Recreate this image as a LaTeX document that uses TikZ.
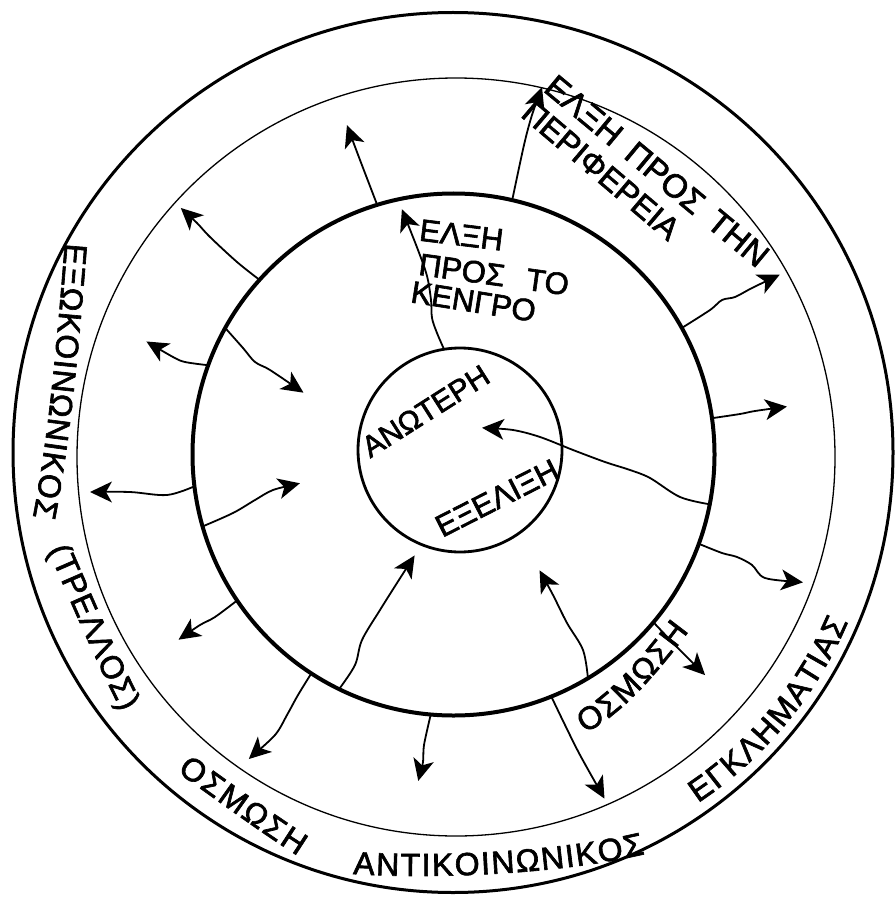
\documentclass[tikz,border=0pt]{standalone}
\usepackage{fontspec}
\newfontfamily\lettering[FakeBold=2]{Liberation Sans}
\usetikzlibrary{decorations.text}
\newcommand\ringfont{\lettering\fontsize{32}{32}\selectfont}
\tikzset{
  ring/.style={circle, draw=black, inner sep=0pt, outer sep=0pt},
  arr/.style={line width=1.8pt, line cap=round, line join=round},
  ahead/.pic={\fill[black] (3pt,0pt) -- (-19pt,10.5pt) -- (-13pt,0pt) -- (-19pt,-10.5pt) -- cycle;},
  ringtext/.style={decorate, decoration={text along path,
              text align={fit to path}, text={|\ringfont|#1}}},
  lbl/.style={inner sep=0pt, anchor=center}
}
\begin{document}
\begin{tikzpicture}[x=1pt,y=-1pt]
\useasboundingbox (0,0) rectangle (894,901);
\fill[white] (0,0) rectangle (894,901);

% circles
\node[ring, line width=3pt,   minimum size=880pt] (outer) at (453,452.5) {};
\node[ring, line width=1.3pt, minimum size=758pt] (thin)  at (456,457) {};
\node[ring, line width=4pt,   minimum size=522pt] (mid)   at (453.5,454.5) {};
\node[ring, line width=2.8pt, minimum size=204pt] (inner) at (460,450) {};

% arrow tips
\coordinate (ta) at (183,210);
\coordinate (tb) at (348,128);
\coordinate (tc) at (149,343);
\coordinate (td) at (301,391);
\coordinate (te) at (93,492);
\coordinate (tf) at (297,484);
\coordinate (tg) at (181,638);
\coordinate (th) at (251,757);
\coordinate (ti) at (413,558);
\coordinate (tj) at (419,778);
\coordinate (tk) at (603,796);
\coordinate (tl) at (541,573);
\coordinate (tm) at (703,673);
\coordinate (tn) at (800,582);
\coordinate (to) at (784,407);
\coordinate (tp) at (777,276);
\coordinate (tq) at (541,90);
\coordinate (tr) at (403,212);
\coordinate (ts) at (485,428);

% arrow lines
\draw[arr] plot[smooth, tension=0.55] coordinates {(mid.138.8) (237,262) (210,237) (197,223) (ta)};
\draw[arr] plot[smooth, tension=0.55] coordinates {(mid.107.8) (360,160) (tb)};
\draw[arr] plot[smooth, tension=0.55] coordinates {(mid.160.3) (185,362) (173,357) (tc)};
\draw[arr] plot[smooth, tension=0.55] coordinates {(mid.151.2) (243,348) (255,362) (270,370) (td)};
\draw[arr] plot[smooth, tension=0.55] coordinates {(mid.187.1) (167,495) (130,492) (te)};
\draw[arr] plot[smooth, tension=0.55] coordinates {(mid.196) (233,513) (255,500) (273,490) (tf)};
\draw[arr] plot[smooth, tension=0.55] coordinates {(mid.214.6) (215,617) (200,625) (tg)};
\draw[arr] plot[smooth, tension=0.55] coordinates {(mid.237.2) (298,695) (287,715) (275,735) (th)};
\draw[arr] plot[smooth, tension=0.55] coordinates {(mid.244.1) (355,665) (362,640) (380,610) (397,583) (ti)};
\draw[arr] plot[smooth, tension=0.55] coordinates {(mid.265) (424,745) (423,762) (tj)};
\draw[arr] plot[smooth, tension=0.55] coordinates {(mid.292) (565,725) (580,755) (tk)};
\draw[arr] plot[smooth, tension=0.55] coordinates {(mid.301.9) (583,650) (567,623) (553,595) (tl)};
\draw[arr] plot[smooth, tension=0.55] coordinates {(mid.320) (675,645) (tm)};
\draw[arr] plot[smooth, tension=0.55] coordinates {(mid.340.8) (722,553) (737,557) (752,565) (765,578) (tn)};
\draw[arr] plot[smooth, tension=0.55] coordinates {(mid.8.4) (740,414) (755,411) (to)};
\draw[arr] plot[smooth, tension=0.55] coordinates {(mid.29.8) (710,310) (722,300) (735,297) (752,288) (tp)};
\draw[arr] plot[smooth, tension=0.55] coordinates {(mid.77.5) (524,145) (532,115) (tq)};
\draw[arr] plot[smooth, tension=0.55] coordinates {(inner.99.4) (437,333) (432,318) (431,300) (427,276) (418,250) (tr)};
\draw[arr] plot[smooth, tension=0.55] coordinates {(mid.349.3) (680,497) (650,478) (630,470) (605,462) (573,450) (540,437) (513,430) (ts)};

% arrow heads
\pic[rotate=137.1] at (ta) {ahead};
\pic[rotate=110.6] at (tb) {ahead};
\pic[rotate=149.7] at (tc) {ahead};
\pic[rotate=-34.1] at (td) {ahead};
\pic[rotate=180]   at (te) {ahead};
\pic[rotate=14]    at (tf) {ahead};
\pic[rotate=214.4] at (tg) {ahead};
\pic[rotate=222.5] at (th) {ahead};
\pic[rotate=57.4]  at (ti) {ahead};
\pic[rotate=256]   at (tj) {ahead};
\pic[rotate=-60.7] at (tk) {ahead};
\pic[rotate=118.6] at (tl) {ahead};
\pic[rotate=-45]   at (tm) {ahead};
\pic[rotate=-6.5]  at (tn) {ahead};
\pic[rotate=7.9]   at (to) {ahead};
\pic[rotate=25.6]  at (tp) {ahead};
\pic[rotate=70.2]  at (tq) {ahead};
\pic[rotate=111.5] at (tr) {ahead};
\pic[rotate=175.9] at (ts) {ahead};

% ring texts along paths
\path[ringtext={ΕΞΩΚΟΙΝΩΝΙΚΟΣ}] (65,243) .. controls (58,330) and (50,430) .. (33,517);
\path[ringtext={(ΤΡΕΛΛΟΣ)}] (48,550) .. controls (70,600) and (95,660) .. (122,712);
\path[ringtext={ΟΣΜΩΣΗ}] (177,772) .. controls (217,800) and (257,830) .. (298,856);
\path[ringtext={ΑΝΤΙΚΟΙΝΩΝΙΚΟΣ}] (353,874) .. controls (450,880) and (570,872) .. (645,854);
\path[ringtext={ΕΓΚΛΗΜΑΤΙΑΣ}] (698,803) .. controls (760,762) and (815,700) .. (848,622);
\path[ringtext={ΟΣΜΩΣΗ}] (585,733) .. controls (622,715) and (660,670) .. (689,631);

% other labels
\node[lbl, font=\lettering\fontsize{30}{30}\selectfont, rotate=32.4] (anoteri) at (425.5,411) {ΑΝΩΤΕΡΗ};
\node[lbl, font=\lettering\fontsize{31}{31}\selectfont, rotate=27] (exelixi) at (497,498) {ΕΞΕΛΙΞΗ};
\node[lbl, font=\lettering\fontsize{33}{33}\selectfont, rotate=-39.7] (elxiper) at (657,171) {ΕΛΞΗ\hspace{15pt}ΠΡΟΣ\hspace{15pt}ΤΗΝ};
\node[lbl, font=\lettering\fontsize{32}{32}\selectfont, rotate=-40.3] (periferia) at (601,170.5) {ΠΕΡΙΦΕΡΕΙΑ};
\node[lbl, font=\lettering\fontsize{31}{31}\selectfont, rotate=-7] (elxi) at (461.5,235) {ΕΛΞΗ};
\node[lbl, font=\lettering\fontsize{31}{31}\selectfont, rotate=-7.9] (prosto) at (494,274.5) {ΠΡΟΣ\hspace{22pt}ΤΟ};
\node[lbl, font=\lettering\fontsize{31}{31}\selectfont, rotate=-9] (kentro) at (473.5,301.5) {ΚΕΝΓΡΟ};
\end{tikzpicture}
\end{document}
